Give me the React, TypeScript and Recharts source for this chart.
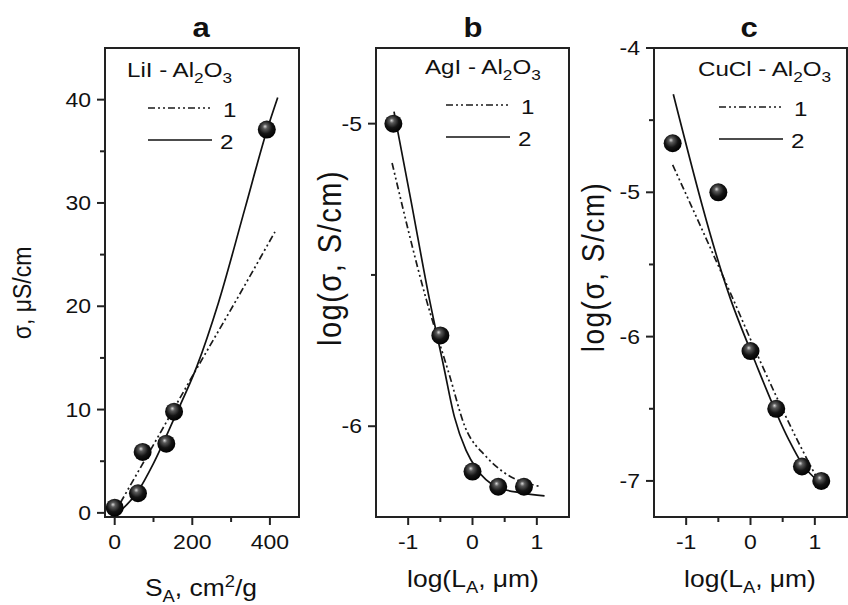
import { ComposedChart, Line, ReferenceArea, Scatter, XAxis, YAxis } from "recharts";

// (a) LiI - Al2O3: conductivity, µS/cm, against specific surface S_A, cm²/g
const liiSurface = [0, 60, 72, 133, 153, 392];
const liiSigma = [0.5, 1.9, 5.9, 6.7, 9.8, 37.1];
const liiFit1X = [15, 85, 212, 315, 413];
const liiFit1Y = [1.0, 5.6, 14.0, 20.7, 27.2];
const liiFit2X = [15, 60, 100, 155, 212, 267, 336, 392, 420];
const liiFit2Y = [0.2, 2.1, 4.8, 9.3, 14.2, 20.3, 29.5, 37.0, 40.2];

// (b) AgI - Al2O3: log conductivity against log L_A
const agiLogL = [-1.23, -0.5, 0, 0.4, 0.8];
const agiLogSigma = [-5.0, -5.7, -6.15, -6.2, -6.2];
const agiFit1X = [-1.25, -0.72, -0.36, -0.12, 0.21, 0.47, 1.07];
const agiFit1Y = [-5.13, -5.58, -5.83, -6.0, -6.1, -6.15, -6.2];
const agiFit2X = [-1.22, -0.96, -0.67, -0.45, -0.28, -0.1, 0.06, 0.37, 0.75, 1.12];
const agiFit2Y = [-4.96, -5.25, -5.58, -5.8, -5.97, -6.08, -6.14, -6.2, -6.22, -6.23];

// (c) CuCl - Al2O3
const cuclLogL = [-1.21, -0.5, 0, 0.4, 0.8, 1.1];
const cuclLogSigma = [-4.66, -5.0, -6.1, -6.5, -6.9, -7.0];
const cuclFit1X = [-1.21, -0.31, 0.13, 0.72, 1.08];
const cuclFit1Y = [-4.81, -5.7, -6.15, -6.71, -7.02];
const cuclFit2X = [-1.2, -0.31, 0.05, 0.59, 0.8, 1.1];
const cuclFit2Y = [-4.32, -5.74, -6.15, -6.71, -6.88, -7.02];

// axis ticks: labelled majors and short unlabelled minors
const surfaceMajor = [0, 200, 400];
const surfaceMinor = [100, 300];
const sigmaMajor = [0, 10, 20, 30, 40];
const sigmaMinor = [5, 15, 25, 35];
const logLMajor = [-1, 0, 1];
const logLMinor = [-0.5, 0.5];
const agiMajor = [-6, -5];
const agiMinor = [-5.5];
const cuclMajor = [-7, -6, -5, -4];
const cuclMinor = [-6.5, -5.5, -4.5];

const FONT = '"Liberation Sans", Arial, Helvetica, sans-serif';
const INK = "#111";
const FRAME = "#222";
const SX = 1.15; // lettering in this figure is slightly wide
const DASH_DOT_DOT = "7 3 2 3 2 3";

type Pt = { x: number; y: number };
const zip = (xs: number[], ys: number[]): Pt[] => xs.map((x, i) => ({ x, y: ys[i] }));

function Txt({ x, y, size, anchor = "start", rotate = false, weight = "normal", spacing, children }: any) {
  const t = `translate(${x},${y}) scale(${SX},1)${rotate ? " rotate(-90)" : ""}`;
  return (
    <text
      transform={t}
      fontSize={size}
      fontFamily={FONT}
      fontWeight={weight}
      letterSpacing={spacing}
      fill={INK}
      textAnchor={anchor}
      dominantBaseline={rotate ? "central" : undefined}
    >
      {children}
    </text>
  );
}

const makeXTick = (majors: number[]) => (props: any) => {
  const { x, y, payload } = props;
  const major = majors.includes(payload.value);
  return (
    <g>
      <line x1={x} x2={x} y1={y} y2={y + (major ? 8 : 5)} stroke={FRAME} strokeWidth={2} />
      {major && (
        <Txt x={x} y={y + 32} size={20} anchor="middle">
          {payload.value}
        </Txt>
      )}
    </g>
  );
};

const makeYTick = (majors: number[]) => (props: any) => {
  const { x, y, payload } = props;
  const major = majors.includes(payload.value);
  return (
    <g>
      <line x1={x - (major ? 8 : 5)} x2={x} y1={y} y2={y} stroke={FRAME} strokeWidth={2} />
      {major && (
        <Txt x={x - 14} y={y + 7} size={20} anchor="end">
          {payload.value}
        </Txt>
      )}
    </g>
  );
};

const Ball = (props: any) => <circle cx={props.cx} cy={props.cy} r={9} fill="url(#ball)" />;

type PanelProps = {
  left: number;
  width: number;
  plotLeft: number;
  xDomain: [number, number];
  yDomain: [number, number];
  xMajor: number[];
  xMinor: number[];
  yMajor: number[];
  yMinor: number[];
  points: Pt[];
  fit1: Pt[];
  fit2: Pt[];
};

function Panel(p: PanelProps) {
  const xt = [...p.xMajor, ...p.xMinor].sort((a, b) => a - b);
  const yt = [...p.yMajor, ...p.yMinor].sort((a, b) => a - b);
  return (
    <div style={{ position: "absolute", left: p.left, top: 0 }}>
      <ComposedChart width={p.width} height={605} margin={{ top: 48, right: 1, bottom: 0, left: 0 }}>
        <XAxis
          type="number"
          dataKey="x"
          domain={p.xDomain}
          allowDataOverflow
          ticks={xt}
          interval={0}
          tickSize={0}
          tickMargin={0}
          tickLine={false}
          axisLine={false}
          tick={makeXTick(p.xMajor)}
          height={88}
        />
        <YAxis
          type="number"
          dataKey="y"
          domain={p.yDomain}
          allowDataOverflow
          ticks={yt}
          interval={0}
          tickSize={0}
          tickMargin={0}
          tickLine={false}
          axisLine={false}
          tick={makeYTick(p.yMajor)}
          width={p.plotLeft - p.left}
        />
        <ReferenceArea
          x1={p.xDomain[0]}
          x2={p.xDomain[1]}
          y1={p.yDomain[0]}
          y2={p.yDomain[1]}
          fill="none"
          fillOpacity={0}
          stroke={FRAME}
          strokeOpacity={1}
          strokeWidth={2}
          ifOverflow="visible"
        />
        <Line
          data={p.fit1}
          dataKey="y"
          type="monotone"
          stroke="#1a1a1a"
          strokeWidth={1.7}
          strokeDasharray={DASH_DOT_DOT}
          dot={false}
          isAnimationActive={false}
        />
        <Line
          data={p.fit2}
          dataKey="y"
          type="monotone"
          stroke="#111"
          strokeWidth={1.7}
          dot={false}
          isAnimationActive={false}
        />
        <Scatter data={p.points} dataKey="y" shape={Ball} isAnimationActive={false} />
      </ComposedChart>
    </div>
  );
}

function LegendBox({ x, y, salt }: { x: number; y: number; salt: string }) {
  // title line, then the two fit styles with their numbers
  return (
    <g>
      <Txt x={x} y={y} size={21}>
        {salt} - Al<tspan fontSize={15} dy={6}>2</tspan>
        <tspan dy={-6}>O</tspan>
        <tspan fontSize={15} dy={6}>3</tspan>
      </Txt>
      <line x1={x + 21} x2={x + 83} y1={y + 31} y2={y + 31} stroke="#1a1a1a" strokeWidth={1.7} strokeDasharray={DASH_DOT_DOT} />
      <Txt x={x + 96} y={y + 40} size={21}>1</Txt>
      <line x1={x + 21} x2={x + 85} y1={y + 63} y2={y + 63} stroke="#111" strokeWidth={1.7} />
      <Txt x={x + 93} y={y + 72} size={21}>2</Txt>
    </g>
  );
}

export default function App() {
  return (
    <div style={{ position: "absolute", left: 0, top: 0, width: 848, height: 605, background: "#fff" }}>
      <svg width={0} height={0} style={{ position: "absolute" }}>
        <defs>
          <radialGradient id="ball" cx="0.45" cy="0.4" r="0.6" fx="0.4" fy="0.32">
            <stop offset="0" stopColor="#d8d8d8" />
            <stop offset="0.22" stopColor="#5a5a5a" />
            <stop offset="0.6" stopColor="#151515" />
            <stop offset="1" stopColor="#000" />
          </radialGradient>
        </defs>
      </svg>

      <Panel
        left={0}
        width={300}
        plotLeft={105}
        xDomain={[-25, 475]}
        yDomain={[-0.4, 45]}
        xMajor={surfaceMajor}
        xMinor={surfaceMinor}
        yMajor={sigmaMajor}
        yMinor={sigmaMinor}
        points={zip(liiSurface, liiSigma)}
        fit1={zip(liiFit1X, liiFit1Y)}
        fit2={zip(liiFit2X, liiFit2Y)}
      />
      <Panel
        left={300}
        width={270}
        plotLeft={376}
        xDomain={[-1.5, 1.5]}
        yDomain={[-6.3, -4.75]}
        xMajor={logLMajor}
        xMinor={logLMinor}
        yMajor={agiMajor}
        yMinor={agiMinor}
        points={zip(agiLogL, agiLogSigma)}
        fit1={zip(agiFit1X, agiFit1Y)}
        fit2={zip(agiFit2X, agiFit2Y)}
      />
      <Panel
        left={570}
        width={278}
        plotLeft={654}
        xDomain={[-1.5, 1.5]}
        yDomain={[-7.25, -4]}
        xMajor={logLMajor}
        xMinor={logLMinor}
        yMajor={cuclMajor}
        yMinor={cuclMinor}
        points={zip(cuclLogL, cuclLogSigma)}
        fit1={zip(cuclFit1X, cuclFit1Y)}
        fit2={zip(cuclFit2X, cuclFit2Y)}
      />

      <svg width={848} height={605} style={{ position: "absolute", left: 0, top: 0, pointerEvents: "none" }}>
        <Txt x={201} y={37} size={27} anchor="middle" weight="bold">a</Txt>
        <Txt x={473} y={37} size={27} anchor="middle" weight="bold">b</Txt>
        <Txt x={749} y={37} size={27} anchor="middle" weight="bold">c</Txt>

        <Txt x={22} y={293} size={23} anchor="middle" rotate>σ, μS/cm</Txt>
        <Txt x={330} y={258} size={29} anchor="middle" rotate spacing={1.5}>log(σ, S/cm)</Txt>
        <Txt x={593} y={267} size={28} anchor="middle" rotate spacing={1.5}>log(σ, S/cm)</Txt>

        <Txt x={201} y={596} size={23} anchor="middle">
          S<tspan fontSize={16} dy={6}>A</tspan>
          <tspan dy={-6}>, cm</tspan>
          <tspan fontSize={16} dy={-9}>2</tspan>
          <tspan dy={9}>/g</tspan>
        </Txt>
        <Txt x={473} y={587} size={23} anchor="middle">
          log(L<tspan fontSize={16} dy={6}>A</tspan>
          <tspan dy={-6}>, μm)</tspan>
        </Txt>
        <Txt x={750} y={587} size={23} anchor="middle">
          log(L<tspan fontSize={16} dy={6}>A</tspan>
          <tspan dy={-6}>, μm)</tspan>
        </Txt>

        <LegendBox x={127} y={77} salt="LiI" />
        <LegendBox x={425} y={74} salt="AgI" />
        <LegendBox x={698} y={76} salt="CuCl" />
      </svg>
    </div>
  );
}
